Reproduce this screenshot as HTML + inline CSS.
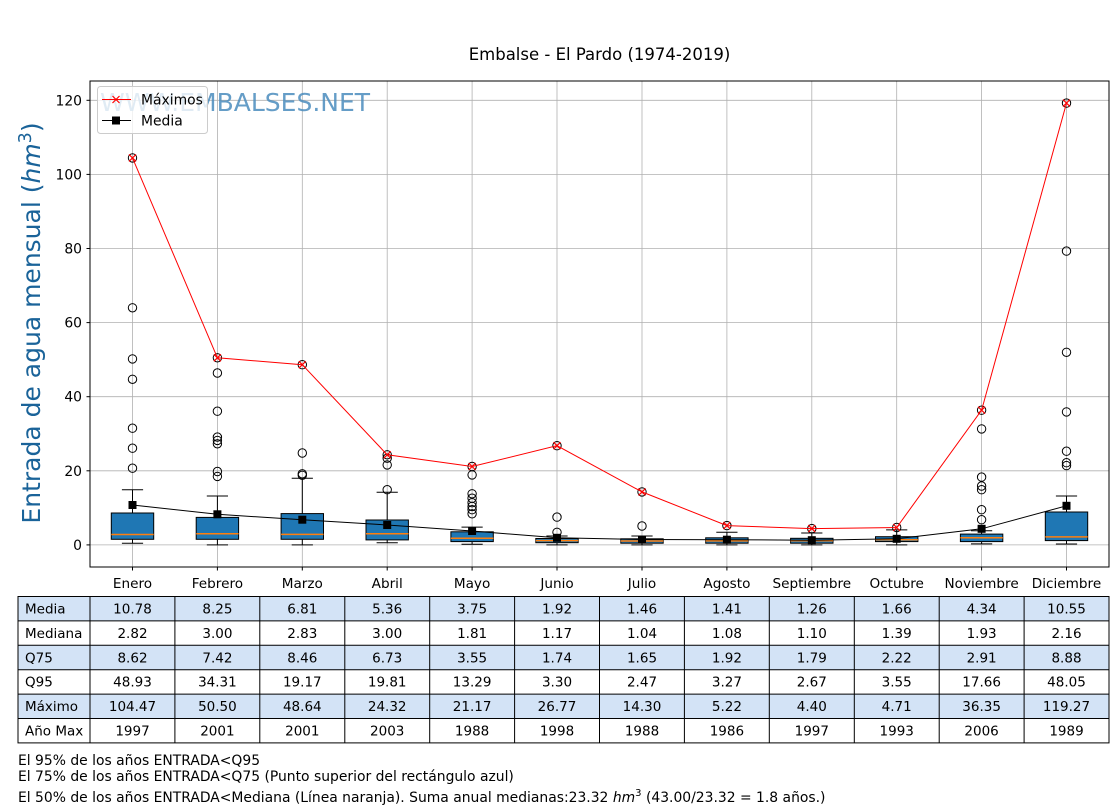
<!DOCTYPE html>
<html>
<head>
<meta charset="utf-8">
<style>
html,body{margin:0;padding:0;background:#fff;}
svg{display:block;}
text{font-family:"DejaVu Sans","Liberation Sans",sans-serif;}
</style>
</head>
<body>
<svg width="1120" height="810" viewBox="0 0 1120 810" xmlns="http://www.w3.org/2000/svg">
<rect x="0" y="0" width="1120" height="810" fill="#fff"/>
<!-- title -->
<text x="599.5" y="60" font-size="16.5" text-anchor="middle" fill="#000">Embalse - El Pardo (1974-2019)</text>

<!-- grid -->
<g stroke="#b0b0b0" stroke-width="0.8">
<line x1="90" y1="544.9" x2="1109" y2="544.9"/>
<line x1="90" y1="470.8" x2="1109" y2="470.8"/>
<line x1="90" y1="396.7" x2="1109" y2="396.7"/>
<line x1="90" y1="322.6" x2="1109" y2="322.6"/>
<line x1="90" y1="248.5" x2="1109" y2="248.5"/>
<line x1="90" y1="174.4" x2="1109" y2="174.4"/>
<line x1="90" y1="100.3" x2="1109" y2="100.3"/>
<line x1="132.5" y1="81" x2="132.5" y2="567"/>
<line x1="217.4" y1="81" x2="217.4" y2="567"/>
<line x1="302.3" y1="81" x2="302.3" y2="567"/>
<line x1="387.2" y1="81" x2="387.2" y2="567"/>
<line x1="472.1" y1="81" x2="472.1" y2="567"/>
<line x1="557.0" y1="81" x2="557.0" y2="567"/>
<line x1="642.0" y1="81" x2="642.0" y2="567"/>
<line x1="726.9" y1="81" x2="726.9" y2="567"/>
<line x1="811.8" y1="81" x2="811.8" y2="567"/>
<line x1="896.7" y1="81" x2="896.7" y2="567"/>
<line x1="981.6" y1="81" x2="981.6" y2="567"/>
<line x1="1066.5" y1="81" x2="1066.5" y2="567"/>
</g>

<!-- watermark -->
<text x="100" y="111" font-size="25" fill="#4a8cbd" fill-opacity="0.85">WWW.EMBALSES.NET</text>

<!-- boxplots -->
<g stroke="#000" stroke-width="1" fill="none">
<path d="M132.5 539.3V543.2M121.9 543.2H143.1M132.5 513.0V489.7M121.9 489.7H143.1"/>
<path d="M217.4 539.3V544.9M206.8 544.9H228.0M217.4 517.4V496.0M206.8 496.0H228.0"/>
<path d="M302.3 539.3V544.9M291.7 544.9H312.9M302.3 513.6V478.2M291.7 478.2H312.9"/>
<path d="M387.2 539.9V542.7M376.6 542.7H397.8M387.2 520.0V492.3M376.6 492.3H397.8"/>
<path d="M472.1 541.6V544.2M461.5 544.2H482.7M472.1 531.8V527.1M461.5 527.1H482.7"/>
<path d="M557.0 542.7V544.9M546.4 544.9H567.6M557.0 538.5V536.0M546.4 536.0H567.6"/>
<path d="M642.0 543.2V544.9M631.4 544.9H652.6M642.0 538.8V536.0M631.4 536.0H652.6"/>
<path d="M726.9 543.2V544.9M716.3 544.9H737.5M726.9 537.8V532.3M716.3 532.3H737.5"/>
<path d="M811.8 543.2V544.9M801.2 544.9H822.4M811.8 538.3V533.0M801.2 533.0H822.4"/>
<path d="M896.7 541.6V544.9M886.1 544.9H907.3M896.7 536.7V529.9M886.1 529.9H907.3"/>
<path d="M981.6 541.6V543.9M971.0 543.9H992.2M981.6 534.1V530.8M971.0 530.8H992.2"/>
<path d="M1066.5 540.6V544.0M1055.9 544.0H1077.1M1066.5 512.0V496.0M1055.9 496.0H1077.1"/>
</g>
<g stroke="#000" stroke-width="1" fill="#1f77b4">
<rect x="111.3" y="513.0" width="42.4" height="26.3"/>
<rect x="196.2" y="517.4" width="42.4" height="21.9"/>
<rect x="281.1" y="513.6" width="42.4" height="25.7"/>
<rect x="366.0" y="520.0" width="42.4" height="19.9"/>
<rect x="450.9" y="531.8" width="42.4" height="9.8"/>
<rect x="535.8" y="538.5" width="42.4" height="4.2"/>
<rect x="620.8" y="538.8" width="42.4" height="4.4"/>
<rect x="705.7" y="537.8" width="42.4" height="5.4"/>
<rect x="790.6" y="538.3" width="42.4" height="4.9"/>
<rect x="875.5" y="536.7" width="42.4" height="4.9"/>
<rect x="960.4" y="534.1" width="42.4" height="7.5"/>
<rect x="1045.3" y="512.0" width="42.4" height="28.6"/>
</g>
<g stroke="#ff7f0e" stroke-width="1.5">
<line x1="111.3" y1="534.5" x2="153.7" y2="534.5"/>
<line x1="196.2" y1="533.8" x2="238.6" y2="533.8"/>
<line x1="281.1" y1="534.4" x2="323.5" y2="534.4"/>
<line x1="366.0" y1="533.8" x2="408.4" y2="533.8"/>
<line x1="450.9" y1="538.2" x2="493.3" y2="538.2"/>
<line x1="535.8" y1="540.6" x2="578.2" y2="540.6"/>
<line x1="620.8" y1="541.0" x2="663.2" y2="541.0"/>
<line x1="705.7" y1="540.9" x2="748.1" y2="540.9"/>
<line x1="790.6" y1="540.8" x2="833.0" y2="540.8"/>
<line x1="875.5" y1="539.8" x2="917.9" y2="539.8"/>
<line x1="960.4" y1="537.8" x2="1002.8" y2="537.8"/>
<line x1="1045.3" y1="536.9" x2="1087.7" y2="536.9"/>
</g>
<!-- outliers -->
<g stroke="#000" stroke-width="1" fill="none">
<circle cx="132.5" cy="468.2" r="4.2"/><circle cx="132.5" cy="448.2" r="4.2"/><circle cx="132.5" cy="428.2" r="4.2"/><circle cx="132.5" cy="379.3" r="4.2"/><circle cx="132.5" cy="358.9" r="4.2"/><circle cx="132.5" cy="307.8" r="4.2"/><circle cx="132.5" cy="157.9" r="4.2"/>
<circle cx="217.4" cy="476.4" r="4.2"/><circle cx="217.4" cy="471.5" r="4.2"/><circle cx="217.4" cy="443.8" r="4.2"/><circle cx="217.4" cy="440.4" r="4.2"/><circle cx="217.4" cy="437.1" r="4.2"/><circle cx="217.4" cy="411.2" r="4.2"/><circle cx="217.4" cy="373.0" r="4.2"/><circle cx="217.4" cy="357.8" r="4.2"/>
<circle cx="302.3" cy="475.3" r="4.2"/><circle cx="302.3" cy="473.8" r="4.2"/><circle cx="302.3" cy="453.0" r="4.2"/><circle cx="302.3" cy="364.7" r="4.2"/>
<circle cx="387.2" cy="489.7" r="4.2"/><circle cx="387.2" cy="464.9" r="4.2"/><circle cx="387.2" cy="458.2" r="4.2"/><circle cx="387.2" cy="454.8" r="4.2"/>
<circle cx="472.1" cy="513.8" r="4.2"/><circle cx="472.1" cy="509.7" r="4.2"/><circle cx="472.1" cy="506.4" r="4.2"/><circle cx="472.1" cy="502.7" r="4.2"/><circle cx="472.1" cy="498.2" r="4.2"/><circle cx="472.1" cy="493.8" r="4.2"/><circle cx="472.1" cy="474.9" r="4.2"/><circle cx="472.1" cy="466.5" r="4.2"/>
<circle cx="557.0" cy="532.3" r="4.2"/><circle cx="557.0" cy="517.1" r="4.2"/><circle cx="557.0" cy="445.7" r="4.2"/>
<circle cx="642.0" cy="526.0" r="4.2"/><circle cx="642.0" cy="491.9" r="4.2"/>
<circle cx="726.9" cy="525.6" r="4.2"/>
<circle cx="811.8" cy="528.6" r="4.2"/>
<circle cx="896.7" cy="527.5" r="4.2"/>
<circle cx="981.6" cy="519.7" r="4.2"/><circle cx="981.6" cy="509.7" r="4.2"/><circle cx="981.6" cy="489.7" r="4.2"/><circle cx="981.6" cy="486.0" r="4.2"/><circle cx="981.6" cy="477.1" r="4.2"/><circle cx="981.6" cy="428.9" r="4.2"/><circle cx="981.6" cy="410.2" r="4.2"/>
<circle cx="1066.5" cy="465.6" r="4.2"/><circle cx="1066.5" cy="462.7" r="4.2"/><circle cx="1066.5" cy="451.2" r="4.2"/><circle cx="1066.5" cy="411.9" r="4.2"/><circle cx="1066.5" cy="352.3" r="4.2"/><circle cx="1066.5" cy="251.1" r="4.2"/><circle cx="1066.5" cy="103.1" r="4.2"/>
</g>

<!-- max line -->
<polyline fill="none" stroke="#ff0000" stroke-width="1" points="132.5,157.9 217.4,357.8 302.3,364.7 387.2,454.8 472.1,466.5 557.0,445.7 642.0,491.9 726.9,525.6 811.8,528.6 896.7,527.5 981.6,410.2 1066.5,103.1"/>
<g stroke="#ff0000" stroke-width="1.2">
<path d="M129 154.4L136 161.4M129 161.4L136 154.4"/>
<path d="M213.9 354.3L220.9 361.3M213.9 361.3L220.9 354.3"/>
<path d="M298.8 361.2L305.8 368.2M298.8 368.2L305.8 361.2"/>
<path d="M383.7 451.3L390.7 458.3M383.7 458.3L390.7 451.3"/>
<path d="M468.6 463L475.6 470M468.6 470L475.6 463"/>
<path d="M553.5 442.2L560.5 449.2M553.5 449.2L560.5 442.2"/>
<path d="M638.5 488.4L645.5 495.4M638.5 495.4L645.5 488.4"/>
<path d="M723.4 522.1L730.4 529.1M723.4 529.1L730.4 522.1"/>
<path d="M808.3 525.1L815.3 532.1M808.3 532.1L815.3 525.1"/>
<path d="M893.2 524L900.2 531M893.2 531L900.2 524"/>
<path d="M978.1 406.7L985.1 413.7M978.1 413.7L985.1 406.7"/>
<path d="M1063 99.6L1070 106.6M1063 106.6L1070 99.6"/>
</g>

<!-- mean line -->
<polyline fill="none" stroke="#000" stroke-width="1" points="132.5,505.0 217.4,514.3 302.3,519.7 387.2,525.0 472.1,531.0 557.0,537.8 642.0,539.5 726.9,539.7 811.8,540.2 896.7,538.8 981.6,528.8 1066.5,505.8"/>
<g fill="#000">
<rect x="128.5" y="501.0" width="8" height="8"/>
<rect x="213.4" y="510.3" width="8" height="8"/>
<rect x="298.3" y="515.7" width="8" height="8"/>
<rect x="383.2" y="521.0" width="8" height="8"/>
<rect x="468.1" y="527.0" width="8" height="8"/>
<rect x="553.0" y="533.8" width="8" height="8"/>
<rect x="638.0" y="535.5" width="8" height="8"/>
<rect x="722.9" y="535.7" width="8" height="8"/>
<rect x="807.8" y="536.2" width="8" height="8"/>
<rect x="892.7" y="534.8" width="8" height="8"/>
<rect x="977.6" y="524.8" width="8" height="8"/>
<rect x="1062.5" y="501.8" width="8" height="8"/>
</g>

<!-- legend -->
<rect x="97.5" y="86.5" width="110" height="47" rx="3" ry="3" fill="#fff" fill-opacity="0.8" stroke="#cccccc" stroke-width="1"/>
<line x1="102" y1="99.5" x2="131" y2="99.5" stroke="#ff0000" stroke-width="1"/>
<path d="M112.5 96L119.5 103M112.5 103L119.5 96" stroke="#ff0000" stroke-width="1.2"/>
<text x="141" y="104.5" font-size="13.9" fill="#000">Máximos</text>
<line x1="102" y1="120.5" x2="131" y2="120.5" stroke="#000" stroke-width="1"/>
<rect x="112" y="116.5" width="8" height="8" fill="#000"/>
<text x="141" y="125.5" font-size="13.9" fill="#000">Media</text>

<!-- axes frame -->
<rect x="90" y="81" width="1019" height="486" fill="none" stroke="#000" stroke-width="1"/>

<!-- y ticks -->
<g stroke="#000" stroke-width="1">
<line x1="86.5" y1="544.9" x2="90" y2="544.9"/>
<line x1="86.5" y1="470.8" x2="90" y2="470.8"/>
<line x1="86.5" y1="396.7" x2="90" y2="396.7"/>
<line x1="86.5" y1="322.6" x2="90" y2="322.6"/>
<line x1="86.5" y1="248.5" x2="90" y2="248.5"/>
<line x1="86.5" y1="174.4" x2="90" y2="174.4"/>
<line x1="86.5" y1="100.3" x2="90" y2="100.3"/>
</g>
<g font-size="13.9" text-anchor="end" fill="#000">
<text x="82" y="549.9">0</text>
<text x="82" y="475.8">20</text>
<text x="82" y="401.7">40</text>
<text x="82" y="327.6">60</text>
<text x="82" y="253.5">80</text>
<text x="82" y="179.4">100</text>
<text x="82" y="105.3">120</text>
</g>

<!-- x ticks -->
<g stroke="#000" stroke-width="1">
<path d="M132.5 567v3.5M217.4 567v3.5M302.3 567v3.5M387.2 567v3.5M472.1 567v3.5M557.0 567v3.5M642.0 567v3.5M726.9 567v3.5M811.8 567v3.5M896.7 567v3.5M981.6 567v3.5M1066.5 567v3.5"/>
</g>
<g font-size="13.6" text-anchor="middle" fill="#000">
<text x="132.5" y="588">Enero</text>
<text x="217.4" y="588">Febrero</text>
<text x="302.3" y="588">Marzo</text>
<text x="387.2" y="588">Abril</text>
<text x="472.1" y="588">Mayo</text>
<text x="557.0" y="588">Junio</text>
<text x="642.0" y="588">Julio</text>
<text x="726.9" y="588">Agosto</text>
<text x="811.8" y="588">Septiembre</text>
<text x="896.7" y="588">Octubre</text>
<text x="981.6" y="588">Noviembre</text>
<text x="1066.5" y="588">Diciembre</text>
</g>

<!-- y label -->
<text transform="translate(40,323) rotate(-90)" text-anchor="middle" font-size="25" fill="#1a6399">Entrada de agua mensual (<tspan font-style="italic">hm</tspan><tspan font-size="17.5" dy="-9">3</tspan><tspan dy="9">)</tspan></text>

<!-- table backgrounds -->
<g fill="#d3e3f6">
<rect x="18" y="596.5" width="1091" height="24.4"/>
<rect x="18" y="645.3" width="1091" height="24.4"/>
<rect x="18" y="694.1" width="1091" height="24.4"/>
</g>
<g stroke="#000" stroke-width="1" fill="none">
<rect x="18" y="596.5" width="1091" height="146.4"/>
<path d="M18 620.9H1109M18 645.3H1109M18 669.7H1109M18 694.1H1109M18 718.5H1109"/>
<path d="M90 596.5V742.9M174.9 596.5V742.9M259.8 596.5V742.9M344.8 596.5V742.9M429.7 596.5V742.9M514.6 596.5V742.9M599.5 596.5V742.9M684.4 596.5V742.9M769.3 596.5V742.9M854.3 596.5V742.9M939.2 596.5V742.9M1024.1 596.5V742.9"/>
</g>
<g font-size="13.5" fill="#000">
<text x="25" y="613.5">Media</text>
<text x="25" y="637.9">Mediana</text>
<text x="25" y="662.3">Q75</text>
<text x="25" y="686.7">Q95</text>
<text x="25" y="711.1">Máximo</text>
<text x="25" y="735.5">Año Max</text>
</g>
<g font-size="13.5" fill="#000" text-anchor="middle">
<text x="132.5" y="613.5">10.78</text><text x="217.4" y="613.5">8.25</text><text x="302.3" y="613.5">6.81</text><text x="387.2" y="613.5">5.36</text><text x="472.1" y="613.5">3.75</text><text x="557.0" y="613.5">1.92</text><text x="642.0" y="613.5">1.46</text><text x="726.9" y="613.5">1.41</text><text x="811.8" y="613.5">1.26</text><text x="896.7" y="613.5">1.66</text><text x="981.6" y="613.5">4.34</text><text x="1066.5" y="613.5">10.55</text>
<text x="132.5" y="637.9">2.82</text><text x="217.4" y="637.9">3.00</text><text x="302.3" y="637.9">2.83</text><text x="387.2" y="637.9">3.00</text><text x="472.1" y="637.9">1.81</text><text x="557.0" y="637.9">1.17</text><text x="642.0" y="637.9">1.04</text><text x="726.9" y="637.9">1.08</text><text x="811.8" y="637.9">1.10</text><text x="896.7" y="637.9">1.39</text><text x="981.6" y="637.9">1.93</text><text x="1066.5" y="637.9">2.16</text>
<text x="132.5" y="662.3">8.62</text><text x="217.4" y="662.3">7.42</text><text x="302.3" y="662.3">8.46</text><text x="387.2" y="662.3">6.73</text><text x="472.1" y="662.3">3.55</text><text x="557.0" y="662.3">1.74</text><text x="642.0" y="662.3">1.65</text><text x="726.9" y="662.3">1.92</text><text x="811.8" y="662.3">1.79</text><text x="896.7" y="662.3">2.22</text><text x="981.6" y="662.3">2.91</text><text x="1066.5" y="662.3">8.88</text>
<text x="132.5" y="686.7">48.93</text><text x="217.4" y="686.7">34.31</text><text x="302.3" y="686.7">19.17</text><text x="387.2" y="686.7">19.81</text><text x="472.1" y="686.7">13.29</text><text x="557.0" y="686.7">3.30</text><text x="642.0" y="686.7">2.47</text><text x="726.9" y="686.7">3.27</text><text x="811.8" y="686.7">2.67</text><text x="896.7" y="686.7">3.55</text><text x="981.6" y="686.7">17.66</text><text x="1066.5" y="686.7">48.05</text>
<text x="132.5" y="711.1">104.47</text><text x="217.4" y="711.1">50.50</text><text x="302.3" y="711.1">48.64</text><text x="387.2" y="711.1">24.32</text><text x="472.1" y="711.1">21.17</text><text x="557.0" y="711.1">26.77</text><text x="642.0" y="711.1">14.30</text><text x="726.9" y="711.1">5.22</text><text x="811.8" y="711.1">4.40</text><text x="896.7" y="711.1">4.71</text><text x="981.6" y="711.1">36.35</text><text x="1066.5" y="711.1">119.27</text>
<text x="132.5" y="735.5">1997</text><text x="217.4" y="735.5">2001</text><text x="302.3" y="735.5">2001</text><text x="387.2" y="735.5">2003</text><text x="472.1" y="735.5">1988</text><text x="557.0" y="735.5">1998</text><text x="642.0" y="735.5">1988</text><text x="726.9" y="735.5">1986</text><text x="811.8" y="735.5">1997</text><text x="896.7" y="735.5">1993</text><text x="981.6" y="735.5">2006</text><text x="1066.5" y="735.5">1989</text>
</g>

<!-- footnotes -->
<g font-size="13.9" fill="#000">
<text x="18" y="765">El 95% de los años ENTRADA&lt;Q95</text>
<text x="18" y="781">El 75% de los años ENTRADA&lt;Q75 (Punto superior del rectángulo azul)</text>
<text x="18" y="802">El 50% de los años ENTRADA&lt;Mediana (Línea naranja). Suma anual medianas:23.32 <tspan font-style="italic">hm</tspan><tspan font-size="10" dy="-6">3</tspan><tspan dy="6"> (43.00/23.32 = 1.8 años.)</tspan></text>
</g>
</svg>
</body>
</html>
